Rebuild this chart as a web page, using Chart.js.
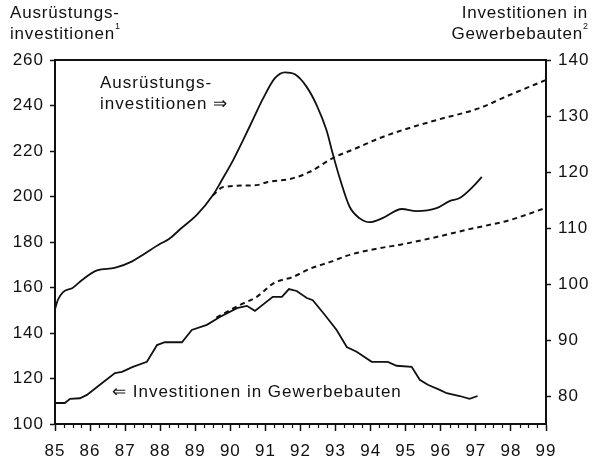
<!DOCTYPE html>
<html><head><meta charset="utf-8">
<script src="https://cdn.jsdelivr.net/npm/chart.js@4.4.1/dist/chart.umd.min.js"></script>
<style>
html,body{margin:0;padding:0;background:#fff;}
#wrap{position:relative;width:601px;height:460px;}
#c{position:absolute;left:0;top:0;}
.t{position:absolute;font-family:"Liberation Sans",Arial,sans-serif;color:#111;font-size:17px;line-height:21px;white-space:nowrap;letter-spacing:0.8px;}
.t sup{font-size:9px;vertical-align:top;position:relative;top:-1px;line-height:9px;letter-spacing:0;}
</style></head><body>
<div id="wrap"><canvas id="c" width="601" height="460"></canvas>
<div class="t" style="left:10px;top:2px">Ausrüstungs-<br>investitionen<sup>1</sup></div>
<div class="t" style="right:13px;top:2px;text-align:right">Investitionen in<br>Gewerbebauten<sup>2</sup></div>
<div class="t" style="left:100px;top:72px;letter-spacing:1px">Ausrüstungs-<br>investitionen ⇒</div>
<div class="t" style="left:112px;top:381px;letter-spacing:1px">⇐ Investitionen in Gewerbebauten</div>
</div>
<script>
// ---- data ----
const xTickValues = [85,86,87,88,89,90,91,92,93,94,95,96,97,98,99];
const xTickLabels = ['85','86','87','88','89','90','91','92','93','94','95','96','97','98','99'];
const leftTicks = [100,120,140,160,180,200,220,240,260];
const rightTicks = [80,90,100,110,120,130,140];

// Ausrüstungsinvestitionen (left axis), actual
const ausrYears  = [85.0,85.08,85.23,85.5,85.77,86.2,86.7,87.2,87.5,88.0,88.25,88.56,89.05,89.5,89.75,90.08,90.37,90.65,90.93,91.27,91.55,91.84,92.17,92.46,92.74,92.93,93.12,93.4,93.69,93.97,94.34,94.89,95.31,95.88,96.25,96.54,96.91,97.17];
const ausrValues = [150.5,154.5,158,159.8,163.3,167.5,168.6,171.5,174.3,179.2,181.3,185.5,192,200.5,207,216,225,234,243,252,254.6,253.7,248.3,240.2,229.2,218.2,208,195.5,190.4,188.7,190.5,194.5,193.6,194.9,198,199.3,204.2,208.6];
// Ausrüstungsinvestitionen, trend (dashed)
const ausrTrendYears  = [89.5,89.8,90.75,91.07,91.7,92.26,92.92,93.6,94.26,94.91,95.88,97.11,97.96,99.0];
const ausrTrendValues = [200.5,204.2,205,206.4,207.7,210.8,216.9,221.3,225.7,229.2,233.6,238.9,244.6,251.2];

// Investitionen in Gewerbebauten (right axis), actual
const gewYears  = [85.0,85.28,85.43,85.71,85.91,86.28,86.71,86.91,87.22,87.62,87.91,88.13,88.62,88.9,89.33,89.7,90.19,90.47,90.7,91.21,91.47,91.67,91.89,92.18,92.35,92.69,93.03,93.32,93.6,94.03,94.49,94.74,95.17,95.4,95.63,95.97,96.17,96.54,96.82,97.05];
const gewValues = [78.75,78.75,79.5,79.6,80.2,82.0,84.1,84.3,85.2,86.1,89.1,89.6,89.6,91.8,92.7,94.1,95.7,96.1,95.2,97.7,97.7,99.1,98.75,97.5,97.1,94.5,91.8,88.75,87.9,86.1,86.1,85.4,85.2,82.9,82.0,81.1,80.5,80.0,79.5,80.0];
// Investitionen in Gewerbebauten, trend (dashed)
const gewTrendYears  = [89.6,90.27,90.75,91.25,91.78,92.26,92.83,93.4,94.26,94.91,95.88,96.82,97.96,99.0];
const gewTrendValues = [94.0,96.25,97.7,100.2,101.25,102.7,103.9,105.2,106.4,107.1,108.4,109.8,111.4,113.6];

const pts = (xs, ys) => xs.map((x, i) => ({x: x, y: ys[i]}));
const INK = '#111';
const FONT = '"Liberation Sans", Arial, sans-serif';

const frameAndMinorTicks = {
  id: 'frameAndMinorTicks',
  beforeDraw(chart) { if ('letterSpacing' in chart.ctx) chart.ctx.letterSpacing = '1px'; },
  afterDraw(chart) {
    const ctx = chart.ctx, a = chart.chartArea, xs = chart.scales.x;
    ctx.save();
    ctx.strokeStyle = INK;
    ctx.lineWidth = 2;
    ctx.beginPath();
    ctx.moveTo(a.left - 1, a.top);
    ctx.lineTo(a.right + 1, a.top);
    ctx.stroke();
    ctx.lineWidth = 1.2;
    ctx.beginPath();
    for (let y = 85; y < 99; y++) {
      for (let q = 1; q < 4; q++) {
        const px = Math.round(xs.getPixelForValue(y + q / 4)) + 0.5;
        ctx.moveTo(px, a.bottom);
        ctx.lineTo(px, a.bottom + 4);
      }
    }
    ctx.stroke();
    ctx.restore();
    if ('letterSpacing' in ctx) ctx.letterSpacing = '0px';
  }
};

const lineDs = (label, data, axis, dashed, smooth) => ({
  label, data, yAxisID: axis,
  borderColor: INK, borderWidth: dashed ? 2 : 1.8,
  borderDash: dashed ? [5, 4] : [],
  pointRadius: 0, fill: false,
  cubicInterpolationMode: smooth ? 'monotone' : 'default',
  tension: smooth ? 0.4 : 0
});

new Chart(document.getElementById('c'), {
  type: 'line',
  data: {
    datasets: [
      lineDs('Ausrüstungsinvestitionen', pts(ausrYears, ausrValues), 'y', false, true),
      lineDs('Ausrüstungsinvestitionen Trend', pts(ausrTrendYears, ausrTrendValues), 'y', true, true),
      lineDs('Investitionen in Gewerbebauten', pts(gewYears, gewValues), 'y2', false, false),
      lineDs('Investitionen in Gewerbebauten Trend', pts(gewTrendYears, gewTrendValues), 'y2', true, true)
    ]
  },
  options: {
    responsive: false,
    animation: false,
    layout: { padding: { top: 60, left: 0, right: 0, bottom: 0 } },
    plugins: { legend: { display: false }, tooltip: { enabled: false } },
    scales: {
      x: {
        type: 'linear', position: 'bottom', min: 85, max: 99,
        afterBuildTicks: s => { s.ticks = xTickValues.map(v => ({ value: v })); },
        afterFit: s => { s.height = 36; },
        grid: { drawOnChartArea: false, drawTicks: true, tickLength: 7, tickColor: INK, tickWidth: 1.5 },
        border: { display: true, color: INK, width: 2 },
        ticks: {
          callback: v => xTickLabels[xTickValues.indexOf(v)],
          font: { family: FONT, size: 17 }, color: INK, padding: 10,
          maxRotation: 0, autoSkip: false
        }
      },
      y: {
        position: 'left', min: 100, max: 260,
        afterBuildTicks: s => { s.ticks = leftTicks.map(v => ({ value: v })); },
        afterFit: s => { s.width = 55; },
        grid: { drawOnChartArea: false, drawTicks: true, tickLength: 5, tickColor: INK, tickWidth: 1.5 },
        border: { display: true, color: INK, width: 2 },
        ticks: { font: { family: FONT, size: 17 }, color: INK, padding: 6 }
      },
      y2: {
        position: 'right', min: 75, max: 140,
        afterBuildTicks: s => { s.ticks = rightTicks.map(v => ({ value: v })); },
        afterFit: s => { s.width = 55; },
        grid: { drawOnChartArea: false, drawTicks: true, tickLength: 5, tickColor: INK, tickWidth: 1.5 },
        border: { display: true, color: INK, width: 2 },
        ticks: { font: { family: FONT, size: 17 }, color: INK, padding: 7 }
      }
    }
  },
  plugins: [frameAndMinorTicks]
});
</script>
</body></html>
